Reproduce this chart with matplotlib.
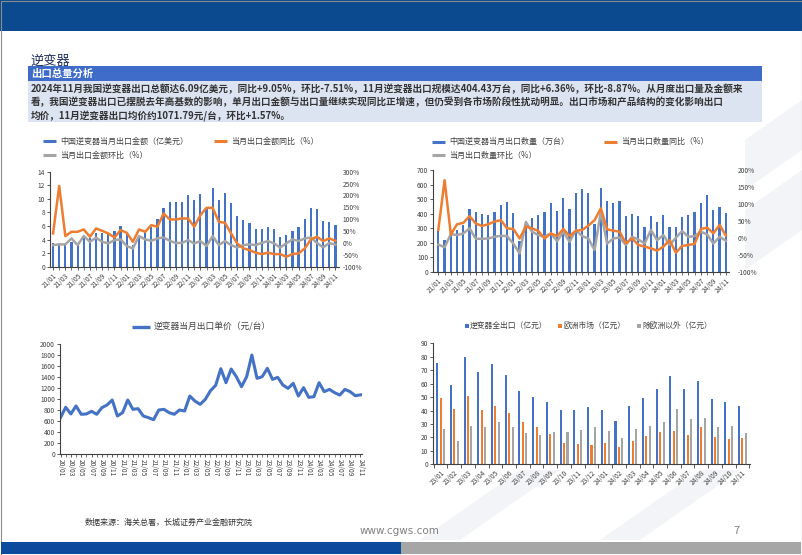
import matplotlib
matplotlib.use("Agg")
import matplotlib.pyplot as plt
from matplotlib.patches import Rectangle, Polygon
import numpy as np

plt.rcParams['font.family'] = ['Noto Sans CJK SC', 'DejaVu Sans']

W, H = 802, 555

# ---------------- data ----------------
months_a = [f"{y}/{m:02d}" for y in (21, 22, 23, 24) for m in range(1, 13)][:47]
amount = [3.5, 3.2, 3.3, 3.7, 3.3, 4.4, 4.2, 4.9, 4.9, 4.8, 5.2, 6.0,
          4.9, 3.2, 4.4, 5.1, 5.9, 7.1, 8.7, 9.6, 9.6, 9.6, 10.5, 9.9,
          10.7, 8.5, 11.6, 9.9, 10.8, 9.4, 7.5, 6.9, 6.4, 5.5, 5.5, 5.8,
          5.6, 4.4, 4.6, 5.3, 5.8, 7.1, 8.6, 8.5, 6.7, 6.6, 6.09]
amount_yoy = [40, 240, 29, 47, 47, 57, 26, 61, 51, 40, 23, 54,
              43, 5, 57, 47, 75, 68, 124, 99, 99, 103, 103, 68,
              117, 148, 148, 89, 85, 40, -2, -23, -30, -41, -47, -41,
              -47, -47, -58, -47, -44, -23, 15, 26, 8, 19, 9]
amount_mom = [-9, -6, -6, 19, -9, 29, 5, 22, 5, -2, 12, 15,
              -13, -23, 29, 15, 9, 19, 23, 9, 0, 0, 12, -2,
              8, -13, 29, -9, 8, -9, -19, -9, -6, -9, 0, 8,
              -2, -19, -2, 15, 8, 19, 23, 0, -19, 0, -7.5]

qty = [287, 218, 275, 287, 321, 429, 408, 397, 390, 413, 459, 482,
       401, 210, 340, 372, 390, 410, 475, 420, 505, 432, 543, 568,
       543, 330, 575, 487, 473, 485, 382, 400, 383, 310, 380, 345,
       390, 305, 310, 375, 390, 410, 475, 528, 428, 443, 404.43]
qty_yoy = [23, 170, 10, 40, 44, 64, 42, 35, 40, 48, 52, 28,
           26, -2, 33, 28, 20, -2, 13, 5, 26, 5, 21, 23,
           36, 52, 87, 25, 21, 18, -16, -2, -21, -26, -31, -38,
           -26, -7, -44, -24, -21, -18, 26, 30, 13, 38, 6.36]
qty_mom = [-20, -28, 11, 8, 13, 28, -3, -3, -2, 3, 6, 5,
           -17, -46, 47, 18, 8, 3, 13, -10, 18, -12, 23, 5,
           -2, -36, 77, -17, -2, 1, -21, 3, -5, -17, 23, -7,
           8, -21, 0, 20, 3, 5, 18, 10, -17, 3, -8.87]

months_p = [f"{y}/{m:02d}" for y in (20, 21, 22, 23, 24) for m in range(1, 13)][:59]
price = [660, 847, 726, 871, 720, 726, 774, 720, 840, 889, 979, 689,
         750, 979, 810, 822, 689, 659, 622, 798, 810, 750, 720, 798,
         780, 1051, 960, 900, 991, 1148, 1245, 1547, 1293, 1541, 1402, 1220,
         1402, 1795, 1372, 1402, 1553, 1353, 1390, 1251, 1190, 1281, 1051, 1203,
         1027, 1039, 1293, 1130, 1172, 1112, 1069, 1172, 1130, 1057, 1072]

months_r = [f"{y}/{m:02d}" for y in (23, 24) for m in range(1, 13)][:23]
reg_total = [75.1, 59.0, 79.6, 68.4, 74.6, 66.5, 54.5, 49.8, 46.6, 40.2, 40.2, 42.4,
             40.2, 32.2, 43.1, 49.1, 55.8, 65.5, 56.0, 62.0, 48.6, 46.6, 43.6]
reg_eu = [49.1, 41.4, 51.1, 40.2, 43.1, 38.4, 31.5, 27.5, 22.3, 16.1, 14.9, 14.1,
          15.6, 12.6, 17.1, 21.1, 24.1, 24.5, 21.6, 27.5, 20.6, 18.8, 19.3]
reg_other = [26.0, 17.4, 28.8, 28.0, 31.5, 28.0, 23.1, 22.1, 24.1, 24.1, 25.3, 28.0,
             24.8, 19.6, 26.0, 28.3, 31.5, 40.9, 34.0, 34.5, 27.8, 28.3, 23.6]

BLUE = '#4472C4'
ORANGE = '#ED7D31'
GRAY = '#A5A5A5'
TXT = '#404040'

fig = plt.figure(figsize=(W / 100, H / 100), dpi=100)
fig.patch.set_facecolor('white')

bg = fig.add_axes([0, 0, 1, 1])
bg.set_xlim(0, W)
bg.set_ylim(H, 0)
bg.axis('off')
bg.set_zorder(-5)

# faint watermark strips
for pts in ([(745, 140), (802, 100), (802, 150), (745, 190)],
            [(745, 210), (802, 170), (802, 230), (745, 270)],
            [(420, 540), (520, 470), (560, 470), (460, 540)],
            [(600, 540), (700, 470), (740, 470), (640, 540)]):
    bg.add_patch(Polygon(pts, closed=True, fc='#f3f4f7', ec='none'))

# top band
bg.add_patch(Rectangle((0, 0), W, 31, fc='#0B4A8E', ec='none'))
# slide border
bg.add_patch(Rectangle((0.5, 0.5), W - 1, H - 1, fc='none', ec='#8c8c8c', lw=0.8))
# bottom bars
bg.add_patch(Rectangle((1, 542), 400, 12, fc='#0B4A9C', ec='none'))
bg.add_patch(Rectangle((401, 542), 400, 12, fc='#A6A6A6', ec='none'))

# header texts
bg.text(30, 61, '逆变器', fontsize=9.5, color='#1F2F5C', va='center', ha='left')
bg.add_patch(Rectangle((28, 66), 734, 15, fc='#3E6CC8', ec='none'))
bg.text(31, 73.5, '出口总量分析', fontsize=7.5, color='white', fontweight='bold',
        va='center', ha='left')
bg.add_patch(Rectangle((28, 81), 734, 41, fc='#DCE3F1', ec='none'))
lines = [
    '2024年11月我国逆变器出口总额达6.09亿美元，同比+9.05%，环比-7.51%，11月逆变器出口规模达404.43万台，同比+6.36%，环比-8.87%。从月度出口量及金额来',
    '看，我国逆变器出口已摆脱去年高基数的影响，单月出口金额与出口量继续实现同比正增速，但仍受到各市场阶段性扰动明显。出口市场和产品结构的变化影响出口',
    '均价，11月逆变器出口均价约1071.79元/台，环比+1.57%。',
]
for i, s in enumerate(lines):
    bg.text(31, 89 + 13.5 * i, s, fontsize=6.9, color='#333333', fontweight='bold',
            va='center', ha='left')

# footer
bg.text(85, 522, '数据来源：海关总署，长城证券产业金融研究院', fontsize=5.8, color='#333333',
        va='center', ha='left')
bg.text(400, 531, 'www.cgws.com', fontsize=7.5, color='#7f7f7f', va='center', ha='center',
        family='DejaVu Sans')
bg.text(737, 531, '7', fontsize=8, color='#7f7f7f', va='center', ha='center')


def rect(l, t, r, b):
    return [l / W, 1 - b / H, (r - l) / W, (b - t) / H]


def style_ax(ax):
    for s in ('top', 'right'):
        ax.spines[s].set_visible(False)
    for s in ('left', 'bottom'):
        ax.spines[s].set_color('#404040')
        ax.spines[s].set_linewidth(0.8)
    ax.tick_params(axis='both', labelsize=4.8, colors=TXT, length=2, width=0.6, pad=1.5)


def legend_line(x, y, color, label, lw=2.2, fs=5.8, seg=13):
    bg.plot([x, x + seg], [y, y], color=color, lw=lw, solid_capstyle='butt')
    bg.text(x + seg + 4, y, label, fontsize=fs, color=TXT, va='center', ha='left')


# ---------------- chart 1 ----------------
n = len(months_a)
xa = np.arange(n)
ax1 = fig.add_axes(rect(50, 171.7, 338.5, 266.7))
ax1.bar(xa, amount, width=0.36, color=BLUE, zorder=2)
ax1.set_ylim(0, 14)
ax1.set_yticks(range(0, 15, 2))
ax1.set_xlim(-0.5, n - 0.5)
style_ax(ax1)
ax1.set_xticks(xa[::2])
ax1.set_xticklabels(months_a[::2], rotation=45, ha='right', va='top', rotation_mode='anchor')
ax1.set_xticks(xa, minor=True)
ax1.tick_params(axis='x', which='minor', length=2, width=0.5, colors='#404040')
ax1b = ax1.twinx()
ax1b.plot(xa, amount_yoy, color=ORANGE, lw=1.8, zorder=3)
ax1b.plot(xa, amount_mom, color=GRAY, lw=1.8, zorder=2)
ax1b.set_ylim(-100, 300)
ax1b.set_yticks(range(-100, 301, 50))
ax1b.set_yticklabels([f"{v}%" for v in range(-100, 301, 50)])
for s in ('top', 'right', 'left', 'bottom'):
    ax1b.spines[s].set_visible(False)
ax1b.tick_params(axis='y', labelsize=4.8, colors=TXT, length=0, pad=3)

legend_line(43, 141, BLUE, '中国逆变器当月出口金额（亿美元）')
legend_line(214, 141, ORANGE, '当月出口金额同比（%）')
legend_line(43, 155, GRAY, '当月出口金额环比（%）')

# ---------------- chart 2 ----------------
ax2 = fig.add_axes(rect(433, 170, 729, 271.7))
ax2.bar(xa, qty, width=0.36, color=BLUE, zorder=2)
ax2.set_ylim(0, 700)
ax2.set_yticks(range(0, 701, 100))
ax2.set_xlim(-0.85, n - 0.5)
style_ax(ax2)
ax2.set_xticks(xa[::2])
ax2.set_xticklabels(months_a[::2], rotation=45, ha='right', va='top', rotation_mode='anchor')
ax2.set_xticks(xa, minor=True)
ax2.tick_params(axis='x', which='minor', length=2, width=0.5, colors='#404040')
ax2b = ax2.twinx()
ax2b.plot(xa, qty_yoy, color=ORANGE, lw=1.8, zorder=3)
ax2b.plot(xa, qty_mom, color=GRAY, lw=1.8, zorder=2)
ax2b.set_ylim(-100, 200)
ax2b.set_yticks(range(-100, 201, 50))
ax2b.set_yticklabels([f"{v}%" for v in range(-100, 201, 50)])
for s in ('top', 'right', 'left', 'bottom'):
    ax2b.spines[s].set_visible(False)
ax2b.tick_params(axis='y', labelsize=4.8, colors=TXT, length=0, pad=6)

legend_line(432, 141.5, BLUE, '中国逆变器当月出口数量（万台）')
legend_line(604, 141.5, ORANGE, '当月出口数量同比（%）')
legend_line(432, 155, GRAY, '当月出口数量环比（%）')

# ---------------- chart 3 ----------------
m = len(months_p)
xp = np.arange(m)
ax3 = fig.add_axes(rect(60, 343.7, 362, 454))
ax3.plot(xp, price, color=BLUE, lw=2.2)
ax3.set_ylim(0, 2000)
ax3.set_yticks(range(0, 2001, 200))
ax3.set_xlim(-0.1, m - 0.7)
style_ax(ax3)
ax3.set_xticks(xp[::2])
ax3.set_xticklabels(months_p[::2], rotation=-90, ha='center', va='top')
ax3.set_xticks(xp, minor=True)
ax3.tick_params(axis='x', which='minor', length=2, width=0.5, colors='#404040')
legend_line(132, 327, BLUE, '逆变器当月出口单价（元/台）', lw=2.4, fs=6.3, seg=18)

# ---------------- chart 4 ----------------
k = len(months_r)
xr = np.arange(k)
ax4 = fig.add_axes(rect(433, 343.3, 750, 464.3))
bw = 0.15
ax4.bar(xr - 0.25, reg_total, width=bw, color=BLUE, zorder=2)
ax4.bar(xr, reg_eu, width=bw, color=ORANGE, zorder=2)
ax4.bar(xr + 0.25, reg_other, width=bw, color=GRAY, zorder=2)
ax4.set_ylim(0, 90)
ax4.set_yticks(range(0, 91, 10))
ax4.set_xlim(-0.55, k - 0.45)
style_ax(ax4)
ax4.set_xticks(xr)
ax4.set_xticklabels(months_r, rotation=45, ha='right', va='top', rotation_mode='anchor')
ax4.tick_params(axis='x', which='major', length=0, pad=3)
ax4.set_xticks(np.arange(-0.5, k, 1), minor=True)
ax4.tick_params(axis='x', which='minor', length=3, width=0.6, colors='#404040')


def legend_sq(x, y, color, label):
    bg.add_patch(Rectangle((x - 1.6, y - 1.6), 3.2, 3.2, fc=color, ec='none'))
    bg.text(x + 3, y, label, fontsize=5.6, color=TXT, va='center', ha='left')


legend_sq(467, 326, BLUE, '逆变器全出口（亿元）')
legend_sq(560, 326, ORANGE, '欧洲市场（亿元）')
legend_sq(639, 326, GRAY, '除欧洲以外（亿元）')

fig.savefig('out.png', dpi=100)
